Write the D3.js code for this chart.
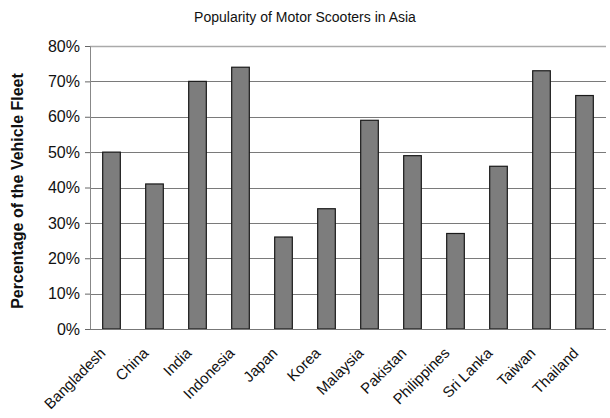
<!DOCTYPE html>
<html>
<head>
<meta charset="utf-8">
<script src="https://cdn.jsdelivr.net/npm/d3@7"></script>
<style>
  body { margin: 0; background: #fff; }
  text { font-family: "Liberation Sans", Arial, sans-serif; fill: #111; }
</style>
</head>
<body>
<script>
// data
var countries = ["Bangladesh", "China", "India", "Indonesia", "Japan", "Korea",
                 "Malaysia", "Pakistan", "Philippines", "Sri Lanka", "Taiwan", "Thailand"];
var shares = [50, 41, 70, 74, 26, 34, 59, 49, 27, 46, 73, 66];
var yTicks = [0, 10, 20, 30, 40, 50, 60, 70, 80];

var outWidth = 610, outHeight = 418;
var margin = {top: 46, right: 4, bottom: 89, left: 90},
    width = outWidth - margin.left - margin.right,
    height = outHeight - margin.top - margin.bottom;

var xScale = d3.scaleBand().domain(countries).range([0, width]).paddingInner(0.59).paddingOuter(0.295);
var yScale = d3.scaleLinear().domain([0, 80]).range([height, 0]);

var svg = d3.select("body").append("svg")
    .attr("width", outWidth)
    .attr("height", outHeight);

var g = svg.append("g")
    .attr("transform", "translate(" + margin.left + "," + margin.top + ")");

// gridlines
g.selectAll(".grid")
  .data(yTicks.slice(1))
  .enter().append("line")
    .attr("x1", 0)
    .attr("x2", width)
    .attr("y1", function(d) { return Math.round(yScale(d)) + 0.5; })
    .attr("y2", function(d) { return Math.round(yScale(d)) + 0.5; })
    .attr("stroke", function(d) { return d == 80 ? "#aaa" : "#7a7a7a"; })
    .attr("stroke-width", function(d) { return d == 80 ? 1.5 : 1; });

// y axis
var yAxis = d3.axisLeft(yScale)
    .tickValues(yTicks)
    .tickSize(5)
    .tickFormat(function(d) { return d + "%"; });
var ya = g.append("g").call(yAxis);
ya.select(".domain").attr("stroke", "#888");
ya.selectAll(".tick line").attr("stroke", "#666");
ya.selectAll(".tick text")
    .attr("x", -10)
    .style("font-size", "16px")
    .style("fill", "#111");

// bars
g.selectAll(".bar")
  .data(countries)
  .enter().append("rect")
    .attr("x", function(d) { return xScale(d); })
    .attr("y", function(d, i) { return yScale(shares[i]); })
    .attr("width", xScale.bandwidth())
    .attr("height", function(d, i) { return height - yScale(shares[i]); })
    .attr("fill", "#7d7d7d")
    .attr("stroke", "#1a1a1a")
    .attr("stroke-width", 1.2);

// baseline
g.append("line")
    .attr("x1", 0).attr("x2", width)
    .attr("y1", height + 0.5).attr("y2", height + 0.5)
    .attr("stroke", "#777");

// x labels
g.selectAll(".xlab")
  .data(countries)
  .enter().append("text")
    .attr("transform", function(d) {
        return "translate(" + (xScale(d) + xScale.bandwidth() / 2 - 5) + "," + (height + 25) + ") rotate(-45)";
    })
    .attr("text-anchor", "end")
    .style("font-size", "15px")
    .text(function(d) { return d; });

// title
svg.append("text")
    .attr("x", 305)
    .attr("y", 22)
    .attr("text-anchor", "middle")
    .style("font-size", "14px")
    .text("Popularity of Motor Scooters in Asia");

// y axis title
svg.append("text")
    .attr("transform", "translate(23,191) rotate(-90)")
    .attr("text-anchor", "middle")
    .style("font-size", "16px")
    .style("font-weight", "bold")
    .text("Percentage of the Vehicle Fleet");
</script>
</body>
</html>
